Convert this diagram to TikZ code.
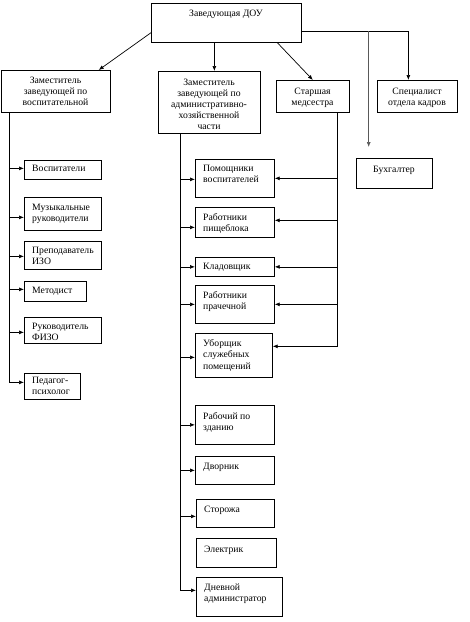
\documentclass[tikz,border=0pt]{standalone}
\usepackage{fontspec}
\setmainfont{Liberation Serif}
\usetikzlibrary{arrows.meta,calc}
\newcommand\mkbox[5]{\node[bx, minimum width={(#4-#2)*1pt}, minimum height={(#5-#3)*1pt}] (#1) at (#2,#3) {};}
\newcommand\harr[3]{\draw[arr] ([yshift=#3]#2 -| #1) -- ([yshift=#3]#2);}
\begin{document}
\begin{tikzpicture}[x=1pt,y=-1pt,
  bx/.style={draw=black, line width=0.7pt, inner sep=0pt, anchor=north west},
  tx/.style={inner sep=0pt, anchor=north west, align=left, font=\fontsize{9.7}{11.3}\selectfont},
  tc/.style={inner sep=0pt, anchor=north, align=center, font=\fontsize{9.7}{11.1}\selectfont},
  ln/.style={line width=0.7pt},
  arr/.style={line width=0.7pt, -{Latex[length=5pt,width=4pt]}}]
\useasboundingbox (0,0) rectangle (470,622);

% boxes
\mkbox{top}{151}{3}{301}{42}
\mkbox{b1}{1}{70}{110}{112}
\mkbox{b2}{158}{71}{260}{133}
\mkbox{med}{276}{80}{349}{112}
\mkbox{spec}{377}{80}{457}{112}
\mkbox{buh}{356}{158}{432}{188}
\mkbox{vosp}{24}{160}{101}{179}
\mkbox{muz}{24}{197}{101}{230}
\mkbox{prep}{24}{241}{101}{269}
\mkbox{metod}{24}{281}{86}{301}
\mkbox{ruk}{24}{317}{101}{343}
\mkbox{psy}{24}{373}{80}{399}
\mkbox{pom}{195}{159}{274}{197}
\mkbox{pish}{195}{207}{274}{237}
\mkbox{klad}{195}{257}{274}{276}
\mkbox{prach}{195}{285}{274}{323}
\mkbox{ubor}{195}{333}{272}{377}
\mkbox{rab}{195}{405}{274}{444}
\mkbox{dvor}{195}{456}{274}{484}
\mkbox{stor}{196}{499}{274}{527}
\mkbox{elek}{196}{538}{276}{567}
\mkbox{dnev}{196}{577}{282}{616}

% texts
\node[tc] (ttop) at (226,9.5) {Заведующая ДОУ};
\node[tc] (tb1) at (55.5,76.5) {Заместитель\\заведующей по\\воспитательной};
\node[tc] (tb2) at (209,78.5) {Заместитель\\заведующей по\\административно-\\хозяйственной\\части};
\node[tc] (tmed) at (312.5,87.5) {Старшая\\медсестра};
\node[tc] (tspec) at (417,87.5) {Специалист\\отдела кадров};
\node[tc] (tbuh) at (394,165.5) {Бухгалтер};
\node[tx] (tvosp) at (32,165) {Воспитатели};
\node[tx] (tmuz) at (32,203.5) {Музыкальные\\руководители};
\node[tx] (tprep) at (32,246.5) {Преподаватель\\ИЗО};
\node[tx] (tmetod) at (32,286.5) {Методист};
\node[tx] (truk) at (32,322.5) {Руководитель\\ФИЗО};
\node[tx] (tpsy) at (32,376.5) {Педагог-\\психолог};
\node[tx] (tpom) at (203,164.5) {Помощники\\воспитателей};
\node[tx] (tpish) at (203,213.5) {Работники\\пищеблока};
\node[tx] (tklad) at (203,262.5) {Кладовщик};
\node[tx] (tprach) at (203,291.5) {Работники\\прачечной};
\node[tx] (tubor) at (203,339.5) {Уборщик\\служебных\\помещений};
\node[tx] (trab) at (203,412.5) {Рабочий по\\зданию};
\node[tx] (tdvor) at (203,462.5) {Дворник};
\node[tx] (tstor) at (204,505.5) {Сторожа};
\node[tx] (telek) at (204,545.5) {Электрик};
\node[tx] (tdnev) at (204,583.5) {Дневной\\администратор};

% top connectors
\draw[arr] ([yshift=10pt]top.south west) -- ([xshift=-12pt]b1.north east);
\draw[arr] ([xshift=-12pt]top.south) -- ([xshift=-12pt]top.south |- b2.north);
\draw[arr] ([xshift=51pt]top.south) -- (med.north);
\draw[arr] ([yshift=-8.5pt]top.east) -| ([xshift=-9pt]spec.north);
\path ([yshift=-8.5pt]top.east) ++(67,0) coordinate (J);
\draw[arr, draw=black!65, fill=black!65] (J) -- ([yshift=11pt]J |- buh.north);

% left trunk
\coordinate (L) at ([xshift=8pt]b1.south west);
\draw[ln] (L) -- ++(0,270);
\harr{L}{vosp.west}{1.5pt}
\harr{L}{muz.west}{-3.5pt}
\harr{L}{prep.west}{-1pt}
\harr{L}{metod.west}{2pt}
\harr{L}{ruk.west}{-2pt}
\harr{L}{psy.west}{4pt}

% middle trunk
\coordinate (M) at ([xshift=22pt]b2.south west);
\draw[ln] (M) -- ++(0,457);
\harr{M}{pom.west}{-1pt}
\harr{M}{pish.west}{-5pt}
\harr{M}{klad.west}{0pt}
\harr{M}{prach.west}{0pt}
\harr{M}{ubor.west}{-2pt}
\harr{M}{rab.west}{0pt}
\harr{M}{dvor.west}{0pt}
\harr{M}{stor.west}{-3pt}
\harr{M}{dnev.west}{6.5pt}

% nurse trunk
\coordinate (R) at ([xshift=24.5pt]med.south);
\draw[ln] (R) -- ++(0,234);
\harr{R}{pom.east}{0pt}
\harr{R}{pish.east}{2pt}
\harr{R}{klad.east}{0pt}
\harr{R}{prach.east}{0pt}
\harr{R}{ubor.east}{9pt}
\end{tikzpicture}
\end{document}
